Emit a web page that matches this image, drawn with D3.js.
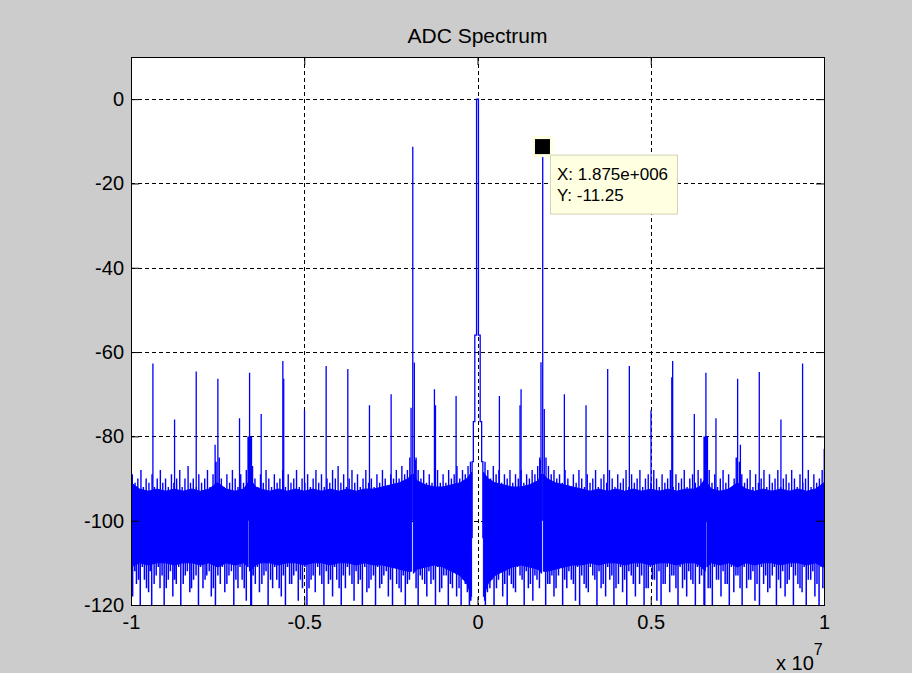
<!DOCTYPE html>
<html>
<head>
<meta charset="utf-8">
<script src="https://cdn.jsdelivr.net/npm/d3@7"></script>
<style>
  body { margin: 0; background: #ffffff; }
  svg { display: block; }
</style>
</head>
<body>
<div id="chart"></div>
<script>
// frequencies in MHz, levels in dB

// harmonic spurs (every 625 kHz), DC handled by centerTrace
const spurFreqs = [-10, -9.375, -8.75, -8.125, -7.5, -6.875, -6.25, -5.625, -5, -4.375, -3.75, -3.125, -2.5, -1.875, -1.25, -0.625,
  0.625, 1.25, 1.875, 2.5, 3.125, 3.75, 4.375, 5, 5.625, 6.25, 6.875, 7.5, 8.125, 8.75, 9.375, 10];
const spurLevels = [-75.7, -62.7, -76.0, -64.6, -66.3, -75.7, -74.7, -62.1, -73.8, -63.3, -64.0, -72.6, -70.0, -11.3, -68.8, -70.4,
  -70.4, -68.8, -11.25, -70.0, -72.6, -64.0, -63.3, -73.8, -62.1, -74.7, -75.7, -66.3, -64.7, -76.0, -62.7, -83.0];

// neighbour bins and other spurs
const extraSpurs = [
  [-7.58, -82], [-7.55, -86], [-6.63, -80], [-6.6, -80], [-6.585, -64.9], [-6.555, -80], [-6.53, -80],
  [-5.6, -66.3], [-1.925, -73.2], [-1.83, -62.5], [-1.79, -85.6], [-1.22, -72.6],
  [1.22, -72.6], [1.79, -85.6], [1.825, -62.4], [1.92, -73.5], [5.6, -66],
  [6.53, -80], [6.555, -80], [6.585, -64.9], [6.6, -80], [6.63, -80], [7.55, -86], [7.58, -82]
];

// DC peak with its shoulders
const centerTrace = [[-0.17, -104], [-0.14, -86], [-0.10, -76.5], [-0.055, -56], [0, 0],
  [0.055, -56], [0.10, -76.5], [0.14, -86], [0.17, -104]];

// dense noise floor: [freq, top, bottom], null = gap
const floorBand = [
  [-10, -91, -111], [-9.75, -92.5, -110], [-9.5, -93, -110.5], [-9.25, -92.5, -110], [-9, -93, -110],
  [-8.75, -92.5, -110.5], [-8.5, -93, -110], [-8.25, -92.5, -110], [-8, -93, -110.5], [-7.75, -92.5, -110],
  [-7.5, -91, -111], [-7.25, -92.5, -110], [-7, -93, -110.5], [-6.75, -92.5, -110], [-6.62, -91, -111],
  [-6.6, null, null], [-6.58, -90, -112], [-6.4, -92, -110.5], [-6.25, -92.5, -110], [-6, -93, -110],
  [-5.75, -92.5, -110.5], [-5.5, -93, -110], [-5.25, -92.5, -110], [-5, -93, -110.5], [-4.75, -92.5, -110],
  [-4.5, -93, -110], [-4.25, -92.5, -110.5], [-4, -93, -110], [-3.75, -92.5, -110], [-3.5, -93, -110.5],
  [-3.25, -92.5, -110], [-3, -92.5, -110.5], [-2.75, -92, -110.5], [-2.5, -91.5, -111], [-2.25, -91, -111.5],
  [-2, -90, -112], [-1.9, -89, -112], [-1.875, null, null], [-1.85, -89, -112.5], [-1.75, -90.5, -111.5],
  [-1.5, -91.5, -111], [-1.25, -92, -110.5], [-1, -92, -111], [-0.75, -91.5, -112], [-0.5, -91, -113],
  [-0.3, -90, -115], [-0.17, -88.5, -118], [0, null, null],
  [0.17, -88.5, -118], [0.3, -90, -115], [0.5, -91, -113], [0.75, -91.5, -112], [1, -92, -111],
  [1.25, -92, -110.5], [1.5, -91.5, -111], [1.75, -90.5, -111.5], [1.85, -89, -112.5], [1.875, null, null],
  [1.9, -89, -112], [2, -90, -112], [2.25, -91, -111.5], [2.5, -91.5, -111], [2.75, -92, -110.5],
  [3, -92.5, -110.5], [3.25, -93, -110], [3.5, -92.5, -110.5], [3.75, -93, -110], [4, -92.5, -110],
  [4.25, -93, -110.5], [4.5, -92.5, -110], [4.75, -93, -110], [5, -92.5, -110.5], [5.25, -93, -110],
  [5.5, -92.5, -110], [5.75, -93, -110.5], [6, -92.5, -110], [6.25, -92.5, -110], [6.4, -92, -110.5],
  [6.58, -90, -112], [6.6, null, null], [6.62, -91, -111], [6.75, -92.5, -110], [7, -93, -110.5],
  [7.25, -92.5, -110], [7.5, -91, -111], [7.75, -92.5, -110], [8, -93, -110.5], [8.25, -92.5, -110],
  [8.5, -93, -110], [8.75, -92.5, -110.5], [9, -93, -110], [9.25, -92.5, -110], [9.5, -93, -110.5],
  [9.75, -92.5, -110], [10, -91, -111]
];

// single noise bins sticking out above the dense floor
const noisePeaks = [
  [-9.97, -89], [-9.89, -91], [-9.81, -90], [-9.72, -88], [-9.65, -92], [-9.57, -90], [-9.49, -91], [-9.4, -89],
  [-9.33, -92], [-9.25, -90], [-9.16, -88], [-9.09, -91], [-9.01, -90], [-8.93, -92], [-8.84, -89], [-8.77, -91],
  [-8.69, -90], [-8.6, -88], [-8.53, -92], [-8.45, -90], [-8.36, -87], [-8.29, -91], [-8.21, -90], [-8.12, -92],
  [-8.05, -89], [-7.97, -91], [-7.88, -90], [-7.8, -88], [-7.73, -92], [-7.64, -89], [-7.57, -91], [-7.46, -85],
  [-7.4, -90], [-7.32, -92], [-7.24, -89], [-7.16, -91], [-7.08, -88], [-7, -90], [-6.92, -92], [-6.84, -89],
  [-6.76, -91], [-6.68, -88], [-6.5, -87], [-6.43, -90], [-6.35, -92], [-6.27, -89], [-6.19, -91], [-6.11, -88],
  [-6.03, -90], [-5.95, -92], [-5.87, -89], [-5.79, -91], [-5.71, -90], [-5.63, -88], [-5.55, -92], [-5.47, -89],
  [-5.39, -91], [-5.31, -90], [-5.23, -88], [-5.15, -92], [-5.07, -90], [-4.99, -91], [-4.91, -89], [-4.83, -92],
  [-4.75, -90], [-4.67, -88], [-4.59, -91], [-4.51, -89], [-4.43, -92], [-4.35, -90], [-4.27, -91], [-4.19, -88],
  [-4.11, -90], [-4.03, -87], [-3.95, -91], [-3.87, -89], [-3.79, -92], [-3.71, -90], [-3.63, -88], [-3.55, -91],
  [-3.47, -89], [-3.39, -92], [-3.31, -90], [-3.23, -88], [-3.15, -91], [-3.07, -90], [-2.99, -92], [-2.91, -89],
  [-2.83, -91], [-2.75, -88], [-2.67, -90], [-2.59, -92], [-2.51, -89], [-2.43, -90], [-2.35, -88], [-2.27, -90],
  [-2.19, -87], [-2.11, -89], [-2.03, -88], [-1.96, -85], [-1.78, -85], [-1.72, -88], [-1.64, -90], [-1.56, -88],
  [-1.48, -91], [-1.4, -89], [-1.32, -91], [-1.24, -90], [-1.16, -88], [-1.08, -91], [-1, -89], [-0.92, -91],
  [-0.84, -88], [-0.76, -90], [-0.68, -89], [-0.6, -87], [-0.52, -90], [-0.44, -88], [-0.36, -89], [-0.28, -87],
  [-0.21, -86],
  [0.21, -86], [0.29, -88], [0.37, -90], [0.45, -87], [0.53, -89], [0.61, -88], [0.69, -91], [0.77, -89],
  [0.85, -90], [0.93, -88], [1.01, -91], [1.09, -89], [1.17, -90], [1.25, -88], [1.33, -91], [1.41, -89],
  [1.49, -90], [1.57, -88], [1.65, -89], [1.73, -87], [1.79, -85], [1.97, -85], [2.04, -87], [2.12, -89],
  [2.2, -88], [2.28, -90], [2.36, -89], [2.44, -91], [2.52, -88], [2.6, -90], [2.68, -92], [2.76, -89],
  [2.84, -91], [2.92, -88], [3, -90], [3.08, -92], [3.16, -89], [3.24, -91], [3.32, -90], [3.4, -88],
  [3.48, -92], [3.56, -90], [3.64, -89], [3.72, -91], [3.8, -88], [3.88, -90], [3.96, -92], [4.04, -89],
  [4.12, -91], [4.2, -90], [4.28, -88], [4.36, -92], [4.44, -89], [4.52, -91], [4.6, -90], [4.68, -88],
  [4.76, -92], [4.84, -90], [4.92, -89], [5, -91], [5.08, -88], [5.16, -90], [5.24, -92], [5.32, -89],
  [5.4, -91], [5.48, -90], [5.56, -88], [5.64, -92], [5.72, -89], [5.8, -91], [5.88, -90], [5.96, -88],
  [6.04, -92], [6.12, -90], [6.2, -89], [6.28, -91], [6.36, -88], [6.44, -90], [6.68, -88], [6.76, -91],
  [6.84, -89], [6.92, -92], [7, -90], [7.08, -88], [7.16, -91], [7.24, -89], [7.32, -92], [7.4, -90],
  [7.46, -85], [7.62, -89], [7.7, -91], [7.78, -90], [7.86, -88], [7.94, -92], [8.02, -89], [8.1, -91],
  [8.18, -90], [8.26, -88], [8.34, -92], [8.42, -89], [8.5, -91], [8.58, -90], [8.66, -88], [8.74, -92],
  [8.82, -90], [8.9, -89], [8.98, -91], [9.06, -88], [9.14, -90], [9.22, -92], [9.3, -89], [9.38, -91],
  [9.46, -90], [9.54, -88], [9.62, -92], [9.7, -89], [9.78, -91], [9.86, -90], [9.94, -88]
];

// single noise bins dropping below the dense floor
const noiseDips = [
  [-9.96, -118], [-9.85, -115], [-9.74, -120], [-9.62, -114], [-9.5, -117], [-9.41, -120], [-9.28, -113], [-9.17, -116],
  [-9.05, -120], [-8.93, -114], [-8.8, -118], [-8.7, -115], [-8.57, -120], [-8.44, -113], [-8.31, -117], [-8.2, -114],
  [-8.06, -120], [-7.93, -116], [-7.82, -113], [-7.69, -118], [-7.57, -120], [-7.43, -115], [-7.3, -117], [-7.18, -113],
  [-7.04, -120], [-6.92, -116], [-6.8, -114], [-6.68, -119], [-6.55, -120], [-6.53, -120], [-6.42, -115], [-6.3, -117],
  [-6.17, -113], [-6.05, -120], [-5.92, -116], [-5.8, -114], [-5.67, -118], [-5.55, -120], [-5.43, -115], [-5.31, -113],
  [-5.18, -119], [-5.06, -116], [-4.93, -120], [-4.81, -114], [-4.69, -117], [-4.56, -113], [-4.44, -120], [-4.31, -115],
  [-4.19, -118], [-4.07, -114], [-3.94, -120], [-3.82, -116], [-3.7, -113], [-3.57, -119], [-3.45, -115], [-3.33, -120],
  [-3.2, -117], [-3.08, -114], [-2.95, -120], [-2.83, -116], [-2.71, -113], [-2.58, -118], [-2.46, -120], [-2.34, -115],
  [-2.21, -117], [-2.09, -120], [-1.97, -114], [-1.72, -120], [-1.6, -114], [-1.47, -118], [-1.35, -115], [-1.22, -120],
  [-1.1, -117], [-0.98, -113], [-0.85, -120], [-0.73, -116], [-0.61, -118], [-0.48, -120], [-0.36, -115], [-0.24, -120],
  [-9.9, -112], [-9.79, -114], [-9.68, -111], [-9.56, -116], [-9.45, -112], [-9.34, -115], [-9.22, -111], [-9.11, -113],
  [-8.99, -116], [-8.87, -112], [-8.75, -114], [-8.63, -111], [-8.5, -115], [-8.38, -112], [-8.26, -116], [-8.13, -113],
  [-8, -111], [-7.87, -114], [-7.75, -112], [-7.63, -116], [-7.5, -113], [-7.37, -111], [-7.24, -115], [-7.11, -112],
  [-6.98, -114], [-6.86, -111], [-6.74, -116], [-6.48, -113], [-6.36, -111], [-6.23, -115], [-6.11, -112], [-5.98, -114],
  [-5.86, -111], [-5.73, -116], [-5.61, -113], [-5.49, -111], [-5.37, -115], [-5.24, -112], [-5.12, -114], [-4.99, -111],
  [-4.87, -116], [-4.75, -113], [-4.62, -111], [-4.5, -115], [-4.37, -112], [-4.25, -114], [-4.13, -111], [-4, -116],
  [-3.88, -113], [-3.76, -111], [-3.63, -115], [-3.51, -112], [-3.39, -114], [-3.26, -111], [-3.14, -116], [-3.01, -113],
  [-2.89, -111], [-2.77, -115], [-2.64, -112], [-2.52, -114], [-2.4, -111], [-2.27, -116], [-2.15, -113], [-2.03, -115],
  [-1.78, -116], [-1.66, -113], [-1.53, -115], [-1.41, -112], [-1.28, -114], [-1.16, -111], [-1.04, -116], [-0.91, -113],
  [-0.79, -115], [-0.67, -112], [-0.54, -116], [-0.42, -114], [-0.3, -117], [-0.2, -119],
  [0.22, -120], [0.35, -116], [0.47, -120], [0.6, -114], [0.72, -118], [0.85, -120], [0.97, -115], [1.09, -117],
  [1.22, -113], [1.34, -120], [1.46, -116], [1.59, -119], [1.71, -114], [1.96, -120], [2.08, -115], [2.2, -118],
  [2.33, -113], [2.45, -120], [2.57, -116], [2.7, -114], [2.82, -119], [2.94, -120], [3.07, -115], [3.19, -117],
  [3.32, -113], [3.44, -120], [3.56, -116], [3.69, -118], [3.81, -114], [3.93, -120], [4.06, -115], [4.18, -117],
  [4.3, -120], [4.43, -113], [4.55, -118], [4.67, -115], [4.8, -120], [4.92, -116], [5.04, -114], [5.17, -119],
  [5.29, -120], [5.41, -115], [5.54, -117], [5.66, -113], [5.78, -120], [5.91, -116], [6.03, -118], [6.15, -114],
  [6.28, -120], [6.4, -115], [6.53, -120], [6.55, -120], [6.65, -116], [6.77, -120], [6.89, -114], [7.02, -118],
  [7.14, -115], [7.26, -120], [7.39, -117], [7.51, -113], [7.63, -120], [7.76, -116], [7.88, -114], [8, -119],
  [8.13, -120], [8.25, -115], [8.37, -117], [8.5, -113], [8.62, -120], [8.74, -116], [8.87, -118], [8.99, -114],
  [9.11, -120], [9.24, -115], [9.36, -117], [9.48, -120], [9.61, -114], [9.73, -118], [9.85, -120], [9.96, -116],
  [0.2, -119], [0.28, -117], [0.41, -114], [0.54, -116], [0.66, -112], [0.78, -115], [0.91, -113], [1.03, -116],
  [1.15, -111], [1.28, -114], [1.4, -112], [1.52, -115], [1.65, -113], [1.78, -116], [2.02, -115], [2.14, -113],
  [2.26, -116], [2.39, -111], [2.51, -114], [2.63, -112], [2.76, -115], [2.88, -111], [3, -113], [3.13, -116],
  [3.25, -111], [3.38, -114], [3.5, -112], [3.62, -115], [3.75, -111], [3.87, -113], [3.99, -116], [4.12, -111],
  [4.24, -114], [4.36, -112], [4.49, -115], [4.61, -111], [4.73, -113], [4.86, -116], [4.98, -111], [5.1, -114],
  [5.23, -112], [5.35, -115], [5.47, -111], [5.6, -113], [5.72, -116], [5.84, -111], [5.97, -114], [6.09, -112],
  [6.21, -115], [6.34, -111], [6.46, -113], [6.71, -116], [6.83, -111], [6.95, -114], [7.08, -112], [7.2, -115],
  [7.32, -111], [7.45, -113], [7.57, -116], [7.69, -111], [7.82, -114], [7.94, -112], [8.06, -115], [8.19, -111],
  [8.31, -113], [8.43, -116], [8.56, -111], [8.68, -114], [8.8, -112], [8.93, -115], [9.05, -111], [9.17, -113],
  [9.3, -116], [9.42, -111], [9.54, -114], [9.67, -112], [9.79, -115], [9.91, -111]
];

const yTicks = [-120, -100, -80, -60, -40, -20, 0];
const xTicks = [-10, -5, 0, 5, 10];
const xTickLabels = ["-1", "-0.5", "0", "0.5", "1"];
const tipPoint = [1.875, -11.25];
const tipLines = ["X: 1.875e+006", "Y: -11.25"];

const width = 912, height = 673;
const margin = { top: 57, right: 88, bottom: 68, left: 131 };
const plotW = width - margin.left - margin.right;
const plotH = height - margin.top - margin.bottom;
const font = "'Liberation Sans', Arial, sans-serif";
const blue = "#0000ff";

const svg = d3.select("#chart").append("svg")
  .attr("width", width).attr("height", height)
  .style("font-family", font);

svg.append("rect").attr("width", width).attr("height", height).attr("fill", "#cccccc");

svg.append("text")
  .attr("x", margin.left + plotW / 2).attr("y", 43)
  .attr("text-anchor", "middle").style("font-size", "21px").attr("fill", "#000")
  .text("ADC Spectrum");

const x = d3.scaleLinear().domain([-10, 10]).range([0, plotW]);
const y = d3.scaleLinear().domain([-120, 10]).range([plotH, 0]);
const px = v => Math.round(x(v)) + 0.5;

const chart = svg.append("g").attr("transform", `translate(${margin.left},${margin.top})`);

chart.append("rect").attr("width", plotW).attr("height", plotH).attr("fill", "#ffffff");

chart.append("defs").append("clipPath").attr("id", "plotclip")
  .append("rect").attr("width", plotW + 1).attr("height", plotH + 1);

// grid
const grid = chart.append("g").attr("stroke", "#000").attr("stroke-dasharray", "4,3").attr("stroke-width", 1);
grid.selectAll(".gx").data(xTicks).join("line")
  .attr("x1", d => px(d)).attr("x2", d => px(d)).attr("y1", 0).attr("y2", plotH);
grid.selectAll(".gy").data(yTicks).join("line")
  .attr("y1", d => Math.round(y(d)) + 0.5).attr("y2", d => Math.round(y(d)) + 0.5).attr("x1", 0).attr("x2", plotW);

// spectrum
const data = chart.append("g").attr("clip-path", "url(#plotclip)");

const band = d3.area()
  .defined(d => d[1] !== null)
  .x(d => x(d[0])).y0(d => y(d[2])).y1(d => y(d[1]));
data.append("path").datum(floorBand).attr("d", band)
  .attr("fill", blue).attr("stroke", blue).attr("stroke-width", 1);

const stem = (f, from, to) => `M${x(f) + 0.25},${y(from)}V${y(to)}`;
const stems = (d, w) => data.append("path").attr("d", d)
  .attr("stroke", blue).attr("stroke-width", w).attr("fill", "none");
stems(noisePeaks.map(d => stem(d[0], -95, d[1])).join(""), 1.4);
stems(noiseDips.map(d => stem(d[0], -106, d[1])).join(""), 1.5);
stems(spurFreqs.map((f, i) => stem(f, -100, spurLevels[i])).join(""), 1.3);
stems(extraSpurs.map(d => stem(d[0], -100, d[1])).join(""), 1.3);

data.append("path").datum(centerTrace)
  .attr("d", d3.line().x(d => x(d[0])).y(d => y(d[1])).curve(d3.curveStep))
  .attr("stroke", blue).attr("stroke-width", 1.3).attr("fill", "none");

// axes, ticks pointing inward
const axisStyle = g => {
  g.select(".domain").remove();
  g.selectAll(".tick line").attr("stroke", "#000");
  g.selectAll(".tick text").style("font-size", "20px").style("font-family", font).attr("fill", "#000");
};
chart.append("g")
  .call(d3.axisLeft(y).tickValues(yTicks).tickSizeInner(-8).tickSizeOuter(0).tickPadding(7)
    .tickFormat(d => String(d)))
  .call(axisStyle);
chart.append("g").attr("transform", `translate(${plotW},0)`)
  .call(d3.axisRight(y).tickValues(yTicks).tickSizeInner(-8).tickSizeOuter(0).tickFormat(""))
  .call(axisStyle);
chart.append("g").attr("transform", `translate(0,${plotH})`)
  .call(d3.axisBottom(x).tickValues(xTicks).tickSizeInner(-8).tickSizeOuter(0).tickPadding(10)
    .tickFormat((d, i) => xTickLabels[i]))
  .call(axisStyle);
chart.append("g")
  .call(d3.axisTop(x).tickValues(xTicks).tickSizeInner(-8).tickSizeOuter(0).tickFormat(""))
  .call(axisStyle);

chart.append("rect").attr("x", 0.5).attr("y", 0.5).attr("width", plotW).attr("height", plotH)
  .attr("fill", "none").attr("stroke", "#000");

// exponent label
const expo = svg.append("text").attr("x", 776).attr("y", 670).attr("fill", "#000").style("font-size", "20px");
expo.append("tspan").text("x 10");
expo.append("tspan").attr("dy", -15).style("font-size", "16px").text("7");

// data tip
const tx = x(tipPoint[0]), ty = y(tipPoint[1]);
const tip = chart.append("g");
tip.append("rect").attr("x", tx - 10.5).attr("y", ty - 10.5).attr("width", 21).attr("height", 21).attr("fill", "#ffffe1");
tip.append("rect").attr("x", tx - 7.5).attr("y", ty - 7.5).attr("width", 15).attr("height", 15).attr("fill", "#000");
tip.append("rect").attr("x", tx + 8).attr("y", ty + 8.5).attr("width", 127).attr("height", 59)
  .attr("fill", "#ffffe1").attr("stroke", "#d6d3b3");
tip.selectAll("text").data(tipLines).join("text")
  .attr("x", tx + 14.5).attr("y", (d, i) => ty + 33.5 + i * 21)
  .style("font-size", "17px").attr("fill", "#000")
  .text(d => d);
</script>
</body>
</html>
